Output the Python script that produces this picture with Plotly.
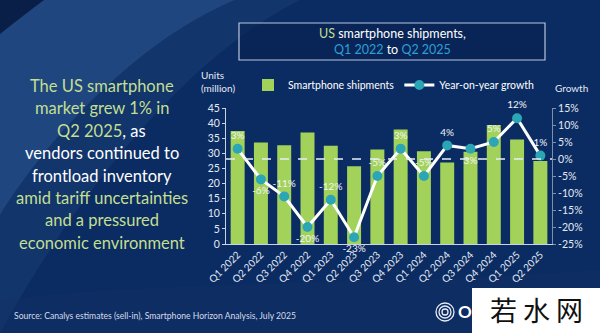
import plotly.graph_objects as go

# ---- data -------------------------------------------------------------
quarters = ["Q1 2022", "Q2 2022", "Q3 2022", "Q4 2022",
            "Q1 2023", "Q2 2023", "Q3 2023", "Q4 2023",
            "Q1 2024", "Q2 2024", "Q3 2024", "Q4 2024",
            "Q1 2025", "Q2 2025"]
shipments_m = [37.4, 33.6, 32.7, 36.9, 32.5, 25.7, 31.3, 37.9,
               30.7, 27.0, 30.5, 39.4, 34.6, 27.5]
yoy_growth = [3, -6, -11, -20, -12, -23, -5, 3, -5, 4, 3, 5, 12, 1]
label_pos = ["top center", "bottom center", "top center", "bottom center",
             "top center", "bottom center", "top center", "top center",
             "top center", "top center", "bottom center", "top center",
             "top center", "top center"]
units_ticks = list(range(0, 50, 5))
growth_ticks = list(range(-25, 20, 5))

headline = [
    ("The US smartphone", "g"),
    ("market grew 1% in", "g"),
    ("Q2 2025|, as", "gw"),
    ("vendors continued to", "w"),
    ("frontload inventory", "w"),
    ("amid tariff uncertainties", "g"),
    ("and a pressured", "g"),
    ("economic environment", "g"),
]

# ---- styling ----------------------------------------------------------
FONT = "Lato"
BG = "#0b2c62"
BAR = "#a3d25a"
LINE = "#ffffff"
DOT = "#2ba6b6"
TXT = "#e4eaf4"
GREEN_TXT = "#c2df92"
CYAN_TXT = "#2e9fd6"

# plot area in pixels
PL, PR, PT, PB = 226, 552, 108, 244
W, H = 600, 333


def px(x):
    return (x - PL) / (PR - PL)


def py(y):
    return (PB - y) / (PB - PT)


fig = go.Figure()

fig.add_trace(go.Bar(
    x=quarters, y=shipments_m, name="Smartphone shipments",
    marker=dict(color=BAR, line=dict(width=0)), width=0.6, yaxis="y",
))

fig.add_trace(go.Scatter(
    x=quarters, y=yoy_growth, name="Year-on-year growth", yaxis="y2",
    mode="lines+markers+text",
    line=dict(color=LINE, width=3),
    marker=dict(color=DOT, size=10, line=dict(width=0)),
    text=[f"{v}%" for v in yoy_growth], textposition=label_pos,
    textfont=dict(family=FONT, size=10, color="#f2f4f8"),
    cliponaxis=False,
))

shapes = []
annotations = []

# background swooshes
shapes.append(dict(type="path", xref="paper", yref="paper", layer="below",
                   path=f"M {px(0)},{py(0)} L {px(44)},{py(0)} Q {px(20)},{py(18)} {px(0)},{py(34)} Z",
                   fillcolor="#0a1f48", line=dict(width=0)))
shapes.append(dict(type="path", xref="paper", yref="paper", layer="below",
                   path=(f"M {px(44)},{py(0)} L {px(235)},{py(0)} "
                         f"C {px(150)},{py(35)} {px(60)},{py(120)} {px(0)},{py(215)} "
                         f"L {px(0)},{py(34)} Q {px(20)},{py(18)} {px(44)},{py(0)} Z"),
                   fillcolor="rgba(70,120,180,0.35)", line=dict(width=0)))
shapes.append(dict(type="path", xref="paper", yref="paper", layer="below",
                   path=(f"M {px(0)},{py(215)} C {px(60)},{py(120)} {px(150)},{py(35)} {px(235)},{py(0)} "
                         f"L {px(300)},{py(0)} C {px(200)},{py(50)} {px(90)},{py(170)} {px(0)},{py(333)} Z"),
                   fillcolor="rgba(40,80,140,0.25)", line=dict(width=0)))
shapes.append(dict(type="path", xref="paper", yref="paper", layer="below",
                   path=(f"M {px(0)},{py(300)} C {px(150)},{py(280)} {px(400)},{py(285)} {px(600)},{py(270)} "
                         f"L {px(600)},{py(333)} L {px(0)},{py(333)} Z"),
                   fillcolor="rgba(20,50,100,0.35)", line=dict(width=0)))

# title box
shapes.append(dict(type="rect", xref="paper", yref="paper",
                   x0=px(239), x1=px(545), y0=py(60), y1=py(23),
                   fillcolor="rgba(8,34,80,0.6)",
                   line=dict(color="#b8c6dc", width=1.2)))
annotations.append(dict(
    xref="paper", yref="paper", x=px(392), y=py(41), xanchor="center", yanchor="middle",
    showarrow=False, align="center",
    text=(f"<span style='color:{GREEN_TXT}'>US</span> smartphone shipments,<br>"
          f"<span style='color:{CYAN_TXT}'>Q1 2022</span> to "
          f"<span style='color:{CYAN_TXT}'>Q2 2025</span>"),
    font=dict(family=FONT, size=12.5, color="#ffffff"),
))

# zero-growth reference line
shapes.append(dict(type="line", xref="paper", yref="y2", x0=0, x1=1, y0=0, y1=0,
                   layer="above", line=dict(color="#e8eef6", width=1.5, dash="dash")))

# headline text
for i, (line_txt, cols) in enumerate(headline):
    if "|" in line_txt:
        a, b = line_txt.split("|")
        txt = f"<span style='color:{GREEN_TXT}'>{a}</span><span style='color:#ffffff'>{b}</span>"
    else:
        c = GREEN_TXT if cols == "g" else "#ffffff"
        txt = f"<span style='color:{c}'>{line_txt}</span>"
    annotations.append(dict(xref="paper", yref="paper", x=px(102), y=py(86 + i * 22.4),
                            xanchor="center", yanchor="middle", showarrow=False,
                            text=txt, font=dict(family=FONT, size=16.5)))

# axis titles
annotations.append(dict(xref="paper", yref="paper", x=px(199), y=py(81), xanchor="left",
                        yanchor="middle", showarrow=False, align="left",
                        text="Units<br>(million)", font=dict(family=FONT, size=10, color=TXT)))
annotations.append(dict(xref="paper", yref="paper", x=px(553), y=py(88), xanchor="left",
                        yanchor="middle", showarrow=False,
                        text="Growth", font=dict(family=FONT, size=10, color=TXT)))

# source
annotations.append(dict(xref="paper", yref="paper", x=px(12), y=py(316), xanchor="left",
                        yanchor="middle", showarrow=False,
                        text="Source: Canalys estimates (sell-in), Smartphone Horizon Analysis, July 2025",
                        font=dict(family=FONT, size=8.6, color="#d4dcea")))

# company logo (rings + letter)
for r in (9, 6, 3):
    shapes.append(dict(type="circle", xref="paper", yref="paper",
                       x0=px(445 - r), x1=px(445 + r), y0=py(312 + r), y1=py(312 - r),
                       line=dict(color="#e6ecf4", width=1.3)))
annotations.append(dict(xref="paper", yref="paper", x=px(456), y=py(311), xanchor="left",
                        yanchor="middle", showarrow=False, text="<b>O</b>",
                        font=dict(family=FONT, size=17, color="#ffffff")))

# site stamp
shapes.append(dict(type="rect", xref="paper", yref="paper", layer="above",
                   x0=px(472), x1=px(601), y0=py(334), y1=py(288),
                   fillcolor="#ffffff", line=dict(width=0)))
annotations.append(dict(xref="paper", yref="paper", x=px(536), y=py(309), xanchor="center",
                        yanchor="middle", showarrow=False, text="若 水 网",
                        font=dict(family="Noto Sans CJK SC", size=27, color="#111111")))

fig.update_layout(
    width=W, height=H, autosize=False,
    margin=dict(l=PL, r=W - PR, t=PT, b=H - PB, pad=0),
    paper_bgcolor=BG, plot_bgcolor="rgba(0,0,0,0)",
    font=dict(family=FONT, color=TXT),
    bargap=0.4,
    showlegend=True,
    legend=dict(orientation="h", x=px(248), y=py(85), xanchor="left", yanchor="middle",
                bgcolor="rgba(0,0,0,0)", font=dict(family=FONT, size=10.5, color="#ffffff"),
                itemwidth=30, traceorder="normal"),
    xaxis=dict(type="category", tickangle=-45, showgrid=False, showline=True,
               linecolor="#c9d3e3", linewidth=1, ticks="",
               tickfont=dict(family=FONT, size=10, color=TXT),
               range=[-0.5, len(quarters) - 0.5]),
    yaxis=dict(range=[0, 45], tickvals=units_ticks, showgrid=False, zeroline=False,
               showline=True, linecolor="#c9d3e3", linewidth=1, ticks="outside",
               ticklen=3, tickcolor="#c9d3e3",
               tickfont=dict(family=FONT, size=10.5, color=TXT)),
    yaxis2=dict(range=[-25, 15], tickvals=growth_ticks,
                ticktext=[f"{v}%" for v in growth_ticks],
                overlaying="y", side="right", showgrid=False, zeroline=False,
                showline=True, linecolor="#7f8fa8", linewidth=1, ticks="outside",
                ticklen=3, tickcolor="#7f8fa8",
                tickfont=dict(family=FONT, size=10.5, color=TXT)),
    shapes=shapes,
    annotations=annotations,
)

fig.write_html("out.html")
